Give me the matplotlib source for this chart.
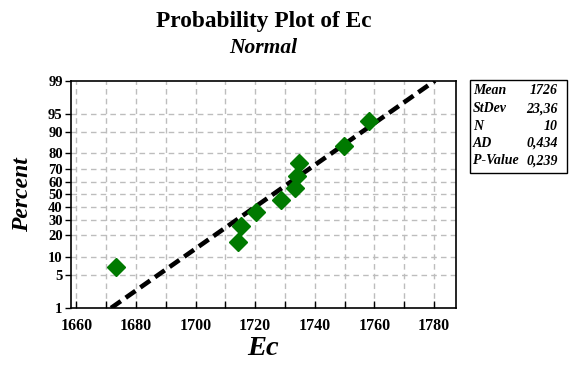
import numpy as np
import matplotlib
matplotlib.use("Agg")
import matplotlib.pyplot as plt
from matplotlib.patches import Rectangle
from statistics import NormalDist

# ---- data ----
ec_values = [1673.3, 1714.1, 1715.1, 1720.2, 1728.8, 1733.3, 1734.1, 1734.7, 1749.9, 1758.1]
mean_val = 1726.0
sd_val = 23.36
n_val = 10
ad_val = "0,434"
p_value = "0,239"
y_ticks = [1, 5, 10, 20, 30, 40, 50, 60, 70, 80, 90, 95, 99]
x_ticks = [1660, 1680, 1700, 1720, 1740, 1760, 1780]
stat_labels = ["Mean", "StDev", "N", "AD", "P-Value"]
stat_values = ["1726", "23,36", "10", ad_val, p_value]

nd = NormalDist()
_ppf = np.vectorize(lambda v: nd.inv_cdf(v / 100.0), otypes=[float])
_cdf = np.vectorize(lambda v: nd.cdf(v) * 100.0, otypes=[float])

def fwd(p):
    p = np.clip(np.asarray(p, dtype=float), 1e-9, 100 - 1e-9)
    return _ppf(p)

def inv(z):
    return _cdf(np.asarray(z, dtype=float))

# Median-rank plotting positions
n = len(ec_values)
ranks = np.arange(1, n + 1)
percents = (ranks - 0.3) / (n + 0.4) * 100
xs = np.sort(ec_values)

plt.rcParams['font.family'] = ['Liberation Serif', 'DejaVu Serif']

fig = plt.figure(figsize=(5.79, 3.70), dpi=100)
ax = fig.add_axes([0.1226, 0.1676, 0.6644, 0.6144])
ax.set_yscale('function', functions=(fwd, inv))

# fitted line
line_p = np.array([1.0, 99.0])
line_x = mean_val + sd_val * fwd(line_p)
ax.plot(line_x, line_p, color='black', lw=3.3, dashes=(2.6, 1.3), zorder=3)

ax.plot(xs, percents, linestyle='none', marker='D', markersize=9.5,
        color='#007A00', markeredgecolor='#007A00', zorder=4)

ax.set_xlim(1658.2, 1787.3)
ax.set_ylim(1, 99)
ax.set_yticks(y_ticks)
ax.set_yticklabels([str(t) for t in y_ticks])
ax.set_xticks(x_ticks)
ax.set_xticks(np.arange(1660, 1790, 10), minor=True)
ax.yaxis.set_minor_locator(matplotlib.ticker.NullLocator())

for t in np.arange(1660, 1790, 10):
    ax.axvline(t, color='#BDBDBD', lw=1, ls=(0, (4, 3)), zorder=1)
for t in y_ticks[1:-1]:
    ax.axhline(t, color='#BDBDBD', lw=1, ls=(0, (4, 3)), zorder=1)

ax.tick_params(axis='x', which='both', direction='in', length=5, width=1, pad=7)
ax.tick_params(axis='y', direction='out', length=4, width=1, pad=2)
for lab in ax.get_xticklabels():
    lab.set_fontweight('bold')
    lab.set_fontsize(11.5)
for lab in ax.get_yticklabels():
    lab.set_fontweight('bold')
    lab.set_fontsize(10.5)
for sp in ax.spines.values():
    sp.set_linewidth(1.2)

ax.set_xlabel('Ec', fontsize=20.5, fontweight='bold', fontstyle='italic', labelpad=2)
ax.set_ylabel('Percent', fontsize=17, fontweight='bold', fontstyle='italic', labelpad=11)

cx = (0.1226 + 0.787) / 2
fig.text(cx, 1 - 21 / 370, 'Probability Plot of Ec', ha='center', va='center',
         fontsize=16.8, fontweight='bold')
fig.text(cx, 1 - 48 / 370, 'Normal', ha='center', va='center',
         fontsize=15.5, fontweight='bold', fontstyle='italic')

# stats box
bx0, bx1 = 470 / 579, 567 / 579
by0, by1 = 1 - 173 / 370, 1 - 80 / 370
fig.patches.append(Rectangle((bx0, by0), bx1 - bx0, by1 - by0, transform=fig.transFigure,
                             fill=False, edgecolor='black', lw=1))
row_y = [91, 109, 126, 143, 161]
for lab, val, ry in zip(stat_labels, stat_values, row_y):
    fig.text(bx0 + 3 / 579, 1 - ry / 370, lab, ha='left', va='center', fontsize=10,
             fontweight='bold', fontstyle='italic')
    fig.text(bx1 - 9 / 579, 1 - ry / 370, val, ha='right', va='center', fontsize=10,
             fontweight='bold', fontstyle='italic')

fig.savefig('out.png', dpi=100)
